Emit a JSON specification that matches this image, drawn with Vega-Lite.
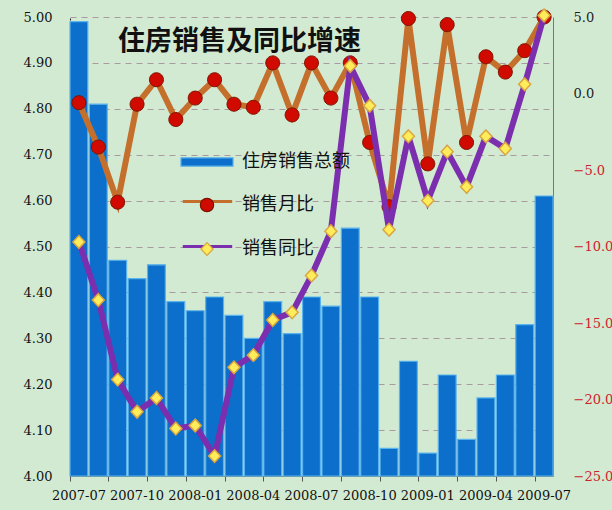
{
  "$schema": "https://vega.github.io/schema/vega-lite/v6.json",
  "width": 483,
  "height": 459,
  "autosize": "none",
  "padding": {"left": 70, "top": 17, "right": 59, "bottom": 34},
  "background": "#d3ead2",
  "config": {"view": {"stroke": null}},
  "title": {
    "text": "住房销售及同比增速",
    "anchor": "start",
    "frame": "group",
    "dx": 48,
    "dy": 30,
    "offset": -36,
    "baseline": "middle",
    "font": "Noto Sans CJK SC",
    "fontSize": 27,
    "fontWeight": "bold",
    "color": "#111111"
  },
  "data": {
    "values": [
      {"month": "2007-07", "sales": 4.99, "mom": -0.6, "yoy": -9.7},
      {"month": "2007-08", "sales": 4.81, "mom": -3.5, "yoy": -13.5},
      {"month": "2007-09", "sales": 4.47, "mom": -7.1, "yoy": -18.7},
      {"month": "2007-10", "sales": 4.43, "mom": -0.7, "yoy": -20.8},
      {"month": "2007-11", "sales": 4.46, "mom": 0.9, "yoy": -19.9},
      {"month": "2007-12", "sales": 4.38, "mom": -1.7, "yoy": -21.9},
      {"month": "2008-01", "sales": 4.36, "mom": -0.3, "yoy": -21.7},
      {"month": "2008-02", "sales": 4.39, "mom": 0.9, "yoy": -23.7},
      {"month": "2008-03", "sales": 4.35, "mom": -0.7, "yoy": -17.9},
      {"month": "2008-04", "sales": 4.30, "mom": -0.9, "yoy": -17.1},
      {"month": "2008-05", "sales": 4.38, "mom": 2.0, "yoy": -14.8},
      {"month": "2008-06", "sales": 4.31, "mom": -1.4, "yoy": -14.3},
      {"month": "2008-07", "sales": 4.39, "mom": 2.0, "yoy": -11.9},
      {"month": "2008-08", "sales": 4.37, "mom": -0.3, "yoy": -9.0},
      {"month": "2008-09", "sales": 4.54, "mom": 2.0, "yoy": 1.8},
      {"month": "2008-10", "sales": 4.39, "mom": -3.2, "yoy": -0.8},
      {"month": "2008-11", "sales": 4.06, "mom": -7.4, "yoy": -8.9},
      {"month": "2008-12", "sales": 4.25, "mom": 4.9, "yoy": -2.8},
      {"month": "2009-01", "sales": 4.05, "mom": -4.6, "yoy": -7.0},
      {"month": "2009-02", "sales": 4.22, "mom": 4.5, "yoy": -3.8},
      {"month": "2009-03", "sales": 4.08, "mom": -3.2, "yoy": -6.1},
      {"month": "2009-04", "sales": 4.17, "mom": 2.4, "yoy": -2.8},
      {"month": "2009-05", "sales": 4.22, "mom": 1.4, "yoy": -3.6},
      {"month": "2009-06", "sales": 4.33, "mom": 2.8, "yoy": 0.6},
      {"month": "2009-07", "sales": 4.61, "mom": 5.0, "yoy": 5.1}
    ]
  },
  "layer": [
    {
      "mark": {"type": "bar", "strokeWidth": 1.2},
      "encoding": {
        "x": {
          "field": "month",
          "type": "nominal",
          "sort": null,
          "scale": {"paddingInner": 0.08, "paddingOuter": 0},
          "axis": {
            "orient": "bottom",
            "values": ["2007-07", "2007-09", "2007-11", "2008-01", "2008-03", "2008-05", "2008-07", "2008-09", "2008-11", "2009-01", "2009-03", "2009-05", "2009-07"],
            "bandPosition": 0,
            "labels": false,
            "ticks": true,
            "tickSize": 5,
            "tickColor": "#555555",
            "domainColor": "#7a8a80",
            "grid": false,
            "title": null
          }
        },
        "y": {
          "field": "sales",
          "type": "quantitative",
          "scale": {"domain": [4, 5], "nice": false, "zero": false},
          "axis": {
            "orient": "left",
            "values": [4.0, 4.1, 4.2, 4.3, 4.4, 4.5, 4.6, 4.7, 4.8, 4.9, 5.0],
            "format": ".2f",
            "grid": true,
            "gridDash": [6, 5],
            "gridColor": "#a99a9f",
            "gridWidth": 1,
            "ticks": false,
            "labelPadding": 18,
            "domainDash": [2, 2],
            "domainColor": "#222222",
            "labelFont": "DejaVu Serif",
            "labelFontSize": 13,
            "labelColor": "#111111",
            "title": null
          }
        },
        "y2": {"datum": 4},
        "stroke": {
          "datum": "住房销售总额",
          "scale": {
            "domain": ["住房销售总额", "销售月比", "销售同比"],
            "range": ["#5ab3ec", "#7a1400", "#d9a640"]
          },
          "legend": {
            "orient": "none",
            "legendX": 117,
            "legendY": 125,
            "zindex": 3,
            "title": null,
            "padding": 0,
            "symbolSize": 1444,
            "symbolStrokeWidth": 1.2,
            "symbolOpacity": 1,
            "rowPadding": 14,
            "labelOffset": 15,
            "labelFont": "Noto Sans CJK SC",
            "labelFontSize": 18,
            "labelColor": "#111111"
          }
        },
        "fill": {
          "datum": "住房销售总额",
          "scale": {
            "domain": ["住房销售总额", "销售月比", "销售同比"],
            "range": ["#0b6fcb", "#d10a00", "#ffec5a"]
          },
          "legend": {
            "orient": "none",
            "legendX": 117,
            "legendY": 125,
            "zindex": 3,
            "title": null,
            "padding": 0,
            "symbolSize": 1444,
            "symbolStrokeWidth": 1.2,
            "symbolOpacity": 1,
            "rowPadding": 14,
            "labelOffset": 15,
            "labelFont": "Noto Sans CJK SC",
            "labelFontSize": 18,
            "labelColor": "#111111"
          }
        }
      }
    },
    {
      "layer": [
        {
          "mark": {"type": "line", "strokeWidth": 6},
          "encoding": {
            "x": {
              "field": "month",
              "type": "nominal",
              "sort": null,
              "axis": {
                "orient": "bottom",
                "values": ["2007-07", "2007-10", "2008-01", "2008-04", "2008-07", "2008-10", "2009-01", "2009-04", "2009-07"],
                "labelAngle": 0,
                "ticks": false,
                "domain": false,
                "grid": false,
                "labelPadding": 13,
                "labelFont": "DejaVu Serif",
                "labelFontSize": 13,
                "labelColor": "#111111",
                "title": null
              }
            },
            "y": {
              "field": "mom",
              "type": "quantitative",
              "scale": {"domain": [-25, 5], "nice": false, "zero": false},
              "axis": {
                "orient": "right",
                "values": [-25, -20, -15, -10, -5, 0, 5],
                "format": ".1f",
                "grid": false,
                "ticks": false,
                "labelPadding": 20,
                "domainColor": "#6e7e76",
                "labelFont": "DejaVu Serif",
                "labelFontSize": 13,
                "labelColor": {"condition": {"test": "datum.value < 0", "value": "#d0202e"}, "value": "#222222"},
                "title": null
              }
            },
            "color": {
              "datum": "销售月比",
              "scale": {"domain": ["销售月比", "销售同比"], "range": ["#c46f2c", "#7b2fae"]},
              "legend": {
                "orient": "none",
                "legendX": 117,
                "legendY": 164,
                "zindex": 1,
                "title": null,
                "padding": 0,
                "symbolSize": 1444,
                "symbolType": "M-1.3,0H1.3",
                "symbolStrokeWidth": 3,
                "symbolOpacity": 1,
                "rowPadding": 15,
                "labelOffset": 15,
                "labelFont": "Noto Sans CJK SC",
                "labelFontSize": 18,
                "labelOpacity": 0
              }
            }
          }
        },
        {
          "mark": {"type": "point", "filled": true, "size": 1600, "strokeWidth": 1, "opacity": 1},
          "encoding": {
            "x": {"field": "month", "type": "nominal", "sort": null},
            "y": {"field": "mom", "type": "quantitative"},
            "fill": {"datum": "销售月比"},
            "stroke": {"datum": "销售月比"},
            "shape": {
              "datum": "销售月比",
              "scale": {
                "domain": ["住房销售总额", "销售月比", "销售同比"],
                "range": ["M-1.37,-0.22H1.37V0.22H-1.37Z", "M0.35,0A0.35,0.35 0 1,1 -0.35,0A0.35,0.35 0 1,1 0.35,0Z", "M0,-0.34L0.32,0L0,0.34L-0.32,0Z"]
              },
              "legend": {
                "orient": "none",
                "legendX": 117,
                "legendY": 125,
                "zindex": 3,
                "title": null,
                "padding": 0,
                "symbolSize": 1444,
                "symbolStrokeWidth": 1.2,
                "symbolOpacity": 1,
                "rowPadding": 14,
                "labelOffset": 15,
                "labelFont": "Noto Sans CJK SC",
                "labelFontSize": 18,
                "labelColor": "#111111"
              }
            }
          }
        },
        {
          "mark": {"type": "line", "strokeWidth": 6},
          "encoding": {
            "x": {"field": "month", "type": "nominal", "sort": null},
            "y": {"field": "yoy", "type": "quantitative"},
            "color": {"datum": "销售同比"}
          }
        },
        {
          "mark": {"type": "point", "filled": true, "size": 1406, "strokeWidth": 1.5, "opacity": 1},
          "encoding": {
            "x": {"field": "month", "type": "nominal", "sort": null},
            "y": {"field": "yoy", "type": "quantitative"},
            "fill": {"datum": "销售同比"},
            "stroke": {"datum": "销售同比"},
            "shape": {"datum": "销售同比"}
          }
        }
      ]
    }
  ],
  "resolve": {"scale": {"y": "independent"}, "axis": {"x": "independent"}}
}
